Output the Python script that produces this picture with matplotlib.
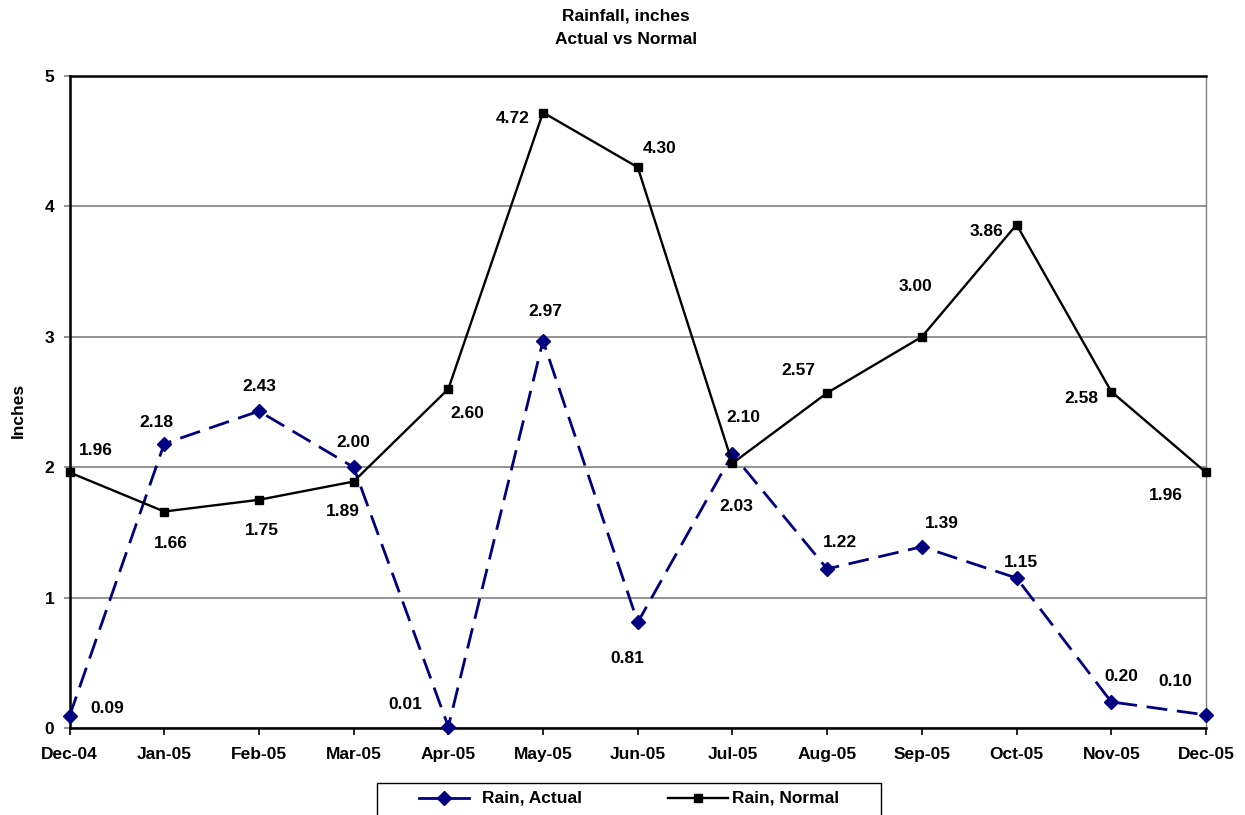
import matplotlib
matplotlib.use("Agg")
import matplotlib.pyplot as plt
from matplotlib.lines import Line2D
from matplotlib.patches import Rectangle

# ---- data -------------------------------------------------------------
months = ["Dec-04", "Jan-05", "Feb-05", "Mar-05", "Apr-05", "May-05", "Jun-05",
          "Jul-05", "Aug-05", "Sep-05", "Oct-05", "Nov-05", "Dec-05"]
rain_actual = [0.09, 2.18, 2.43, 2.00, 0.01, 2.97, 0.81, 2.10, 1.22, 1.39, 1.15, 0.20, 0.10]
rain_normal = [1.96, 1.66, 1.75, 1.89, 2.60, 4.72, 4.30, 2.03, 2.57, 3.00, 3.86, 2.58, 1.96]
y_ticks = [0, 1, 2, 3, 4, 5]

# label placement (pixel offsets from each point: right, down)
actual_label_off = [(38, -8), (-8, -21), (0, -25), (0, -25), (-43, -22), (2, -29), (-10, 36),
                    (11, -37), (13, -26), (20, -23), (4, -16), (10, -25), (-31, -33)]
normal_label_off = [(26, -22), (7, 32), (3, 31), (-11, 30), (19, 25), (-30, 6), (22, -19),
                    (4, 43), (-29, -22), (-6, -50), (-30, 7), (-30, 7), (-40, 23)]

W, H = 1245, 815
plt.rcParams["font.family"] = ["Liberation Sans", "DejaVu Sans"]
plt.rcParams["font.weight"] = "bold"

fig = plt.figure(figsize=(W / 100, H / 100), dpi=100)
left, right, top, bottom = 69.5, 1206, 76, 728
ax = fig.add_axes([left / W, (H - bottom) / H, (right - left) / W, (bottom - top) / H])

navy = "#000080"
x = list(range(len(months)))

ax.plot(x, rain_actual, color=navy, lw=2.0, dashes=(7.5, 3.5), marker="D", ms=7.5,
        mfc=navy, mec=navy, zorder=3, clip_on=False)
ax.plot(x, rain_normal, color="black", lw=1.7, marker="s", ms=6,
        mfc="black", mec="black", zorder=4, clip_on=False)

lbl_kw = dict(textcoords="offset pixels", ha="center", va="center",
              fontsize=12.5, fontweight="bold", color="black", zorder=5)
for xi, v, (dx, dy) in zip(x, rain_actual, actual_label_off):
    ax.annotate(f"{v:.2f}", (xi, v), xytext=(dx, -dy), **lbl_kw)
for xi, v, (dx, dy) in zip(x, rain_normal, normal_label_off):
    ax.annotate(f"{v:.2f}", (xi, v), xytext=(dx, -dy), **lbl_kw)

ax.set_xlim(0, len(months) - 1)
ax.set_ylim(0, 5)
ax.set_xticks(x)
ax.set_xticklabels(months)
ax.set_yticks(y_ticks)
ax.set_yticklabels([str(t) for t in y_ticks])
ax.tick_params(axis="x", direction="out", length=5, width=1.2, color="black",
               labelsize=12.5, pad=9)
ax.tick_params(axis="y", direction="out", length=4, width=1.2, color="#808080",
               labelsize=12.5, pad=7)
for lab in ax.get_xticklabels() + ax.get_yticklabels():
    lab.set_fontweight("bold")

ax.grid(axis="y", color="#808080", lw=1.2, zorder=1)
ax.set_axisbelow(True)
for side in ("left", "bottom", "top"):
    ax.spines[side].set_color("black")
    ax.spines[side].set_linewidth(1.8)
ax.spines["right"].set_color("#808080")
ax.spines["right"].set_linewidth(1.0)

# titles
fig.text(626 / W, 1 - 16 / H, "Rainfall, inches", ha="center", va="center",
         fontsize=12.5, fontweight="bold")
fig.text(626 / W, 1 - 39 / H, "Actual vs Normal", ha="center", va="center",
         fontsize=12.5, fontweight="bold")
fig.text(18 / W, 1 - 410 / H, "Inches", ha="center", va="center", rotation=90,
         fontsize=12.5, fontweight="bold")

# legend box at the bottom
def fx(px):
    return px / W


def fy(py):
    return 1 - py / H


fig.patches.append(Rectangle((fx(377), fy(840)), fx(881) - fx(377), fy(783) - fy(840),
                             transform=fig.transFigure, fill=False, ec="black", lw=1.0))
ly = 798
fig.add_artist(Line2D([fx(419), fx(469)], [fy(ly), fy(ly)], color=navy, lw=2.0,
                      transform=fig.transFigure))
fig.add_artist(Line2D([fx(444)], [fy(ly)], color=navy, marker="D", ms=7.5, ls="none",
                      transform=fig.transFigure))
fig.text(fx(482), fy(ly), "Rain, Actual", ha="left", va="center", fontsize=12.5,
         fontweight="bold")
fig.add_artist(Line2D([fx(668), fx(728)], [fy(ly), fy(ly)], color="black", lw=1.7,
                      transform=fig.transFigure))
fig.add_artist(Line2D([fx(698)], [fy(ly)], color="black", marker="s", ms=6, ls="none",
                      transform=fig.transFigure))
fig.text(fx(732), fy(ly), "Rain, Normal", ha="left", va="center", fontsize=12.5,
         fontweight="bold")

fig.savefig("out.png", dpi=100)
